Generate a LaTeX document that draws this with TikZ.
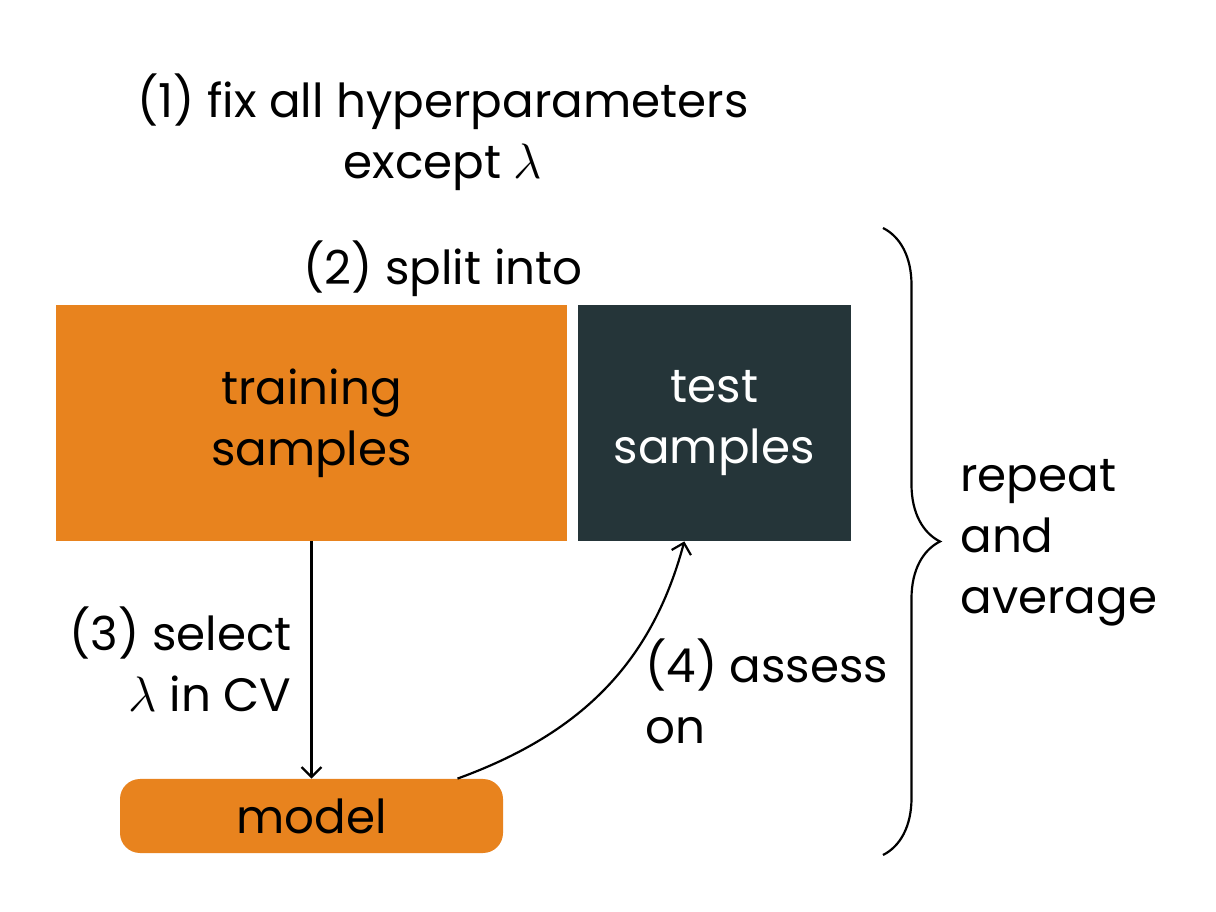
\documentclass[tikz,border=0pt]{standalone}
\usepackage{fontspec}
\setmainfont{Poppins}
\usetikzlibrary{arrows.meta}
\usetikzlibrary{positioning}
\usetikzlibrary{decorations.pathreplacing}
\definecolor{cvorange}{HTML}{E8831E}
\definecolor{cvdark}{HTML}{253539}
\tikzset{
	samplebox/.style={rectangle, inner sep=0pt, align=center, minimum height=118pt},
	modelbox/.style={rectangle, rounded corners=10pt, inner sep=0pt, fill=cvorange,
		minimum width=191.5pt, minimum height=37pt},
	steplabel/.style={inner sep=0pt},
}

\begin{document}
\begin{tikzpicture}[x=0.5pt, y=0.5pt,
	font=\fontsize{23.4}{30.5}\selectfont,
	flow/.style={line width=1.1pt, -{Straight Barb[length=5pt,width=10pt,line width=1.1pt]}},
	curly/.style={line width=1.1pt, decorate, decoration={brace, amplitude=28.5pt}},
	node distance = 5pt and 5pt]
	
	\useasboundingbox (0,0) rectangle (1216,911);
	
	% boxes
	\node[samplebox, fill=cvorange, minimum width=255.5pt] (train) at (311.5,488) {training\\samples};
	\node[samplebox, fill=cvdark, text=white, minimum width=136.5pt, right = of train] (test) {test\\samples};
	\node[modelbox] (model) at (311.5,95) {model};
	
	% step labels
	\node[steplabel, align=center] (fix) at (443,779) {(1) fix all hyperparameters\\except $\lambda$};
	\node[steplabel] (split) at (443,642) {(2) split into};
	\node[steplabel, align=right, anchor=east] (select) at (292,252) {(3) select\\$\lambda$ in CV};
	\node[steplabel, align=left, anchor=west] (assess) at (645,220) {(4) assess\\on};
	
	% arrows
	\draw[flow] (train.south) -- (model.north);
	\draw[flow] ([xshift=73pt]model.north) to[out=20, in=-105] ([xshift=-15pt]test.south);
	
	% brace
	\coordinate (braceTop) at (883,683);
	\coordinate (braceBot) at (883,56);
	\draw[curly] (braceTop) -- (braceBot);
	\node[steplabel, align=left, anchor=west] (repeat) at (960,368) {repeat\\and\\average};
\end{tikzpicture}
\end{document}
